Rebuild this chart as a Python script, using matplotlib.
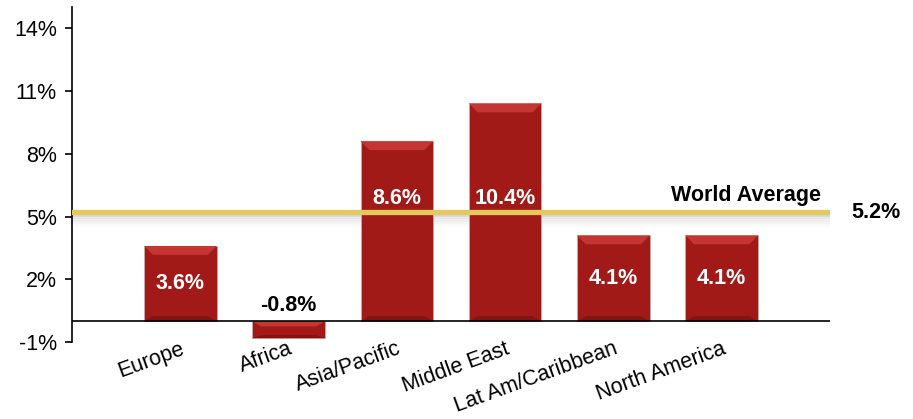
import numpy as np
import matplotlib.pyplot as plt
from matplotlib.patches import Polygon

plt.rcParams['font.family'] = ['Liberation Sans', 'DejaVu Sans']

regions = ['Europe', 'Africa', 'Asia/Pacific', 'Middle East', 'Lat Am/Caribbean', 'North America']
growth = [3.6, -0.8, 8.6, 10.4, 4.1, 4.1]
world_avg = 5.2
yticks = [-1, 2, 5, 8, 11, 14]

fs = 15.5

fig = plt.figure(figsize=(9.13, 4.19), dpi=100)
ax = fig.add_axes([0.079, 0.183, 0.83, 0.80])

x = np.arange(len(regions))
w = 0.67
bars = ax.bar(x, growth, width=w, color='#A11A17', edgecolor='#C9A9A9', linewidth=0.6, zorder=3)

# bevelled top: lighter trapezoid on each bar, darker one at the base
for xi, v in zip(x, growth):
    top = max(v, 0)
    bot = min(v, 0)
    h = min(0.42, abs(v) * 0.3)
    d = 0.08
    ax.add_patch(Polygon([[xi - w/2, top], [xi + w/2, top],
                          [xi + w/2 - d, top - h], [xi - w/2 + d, top - h]],
                         closed=True, facecolor='#C53632', edgecolor='none', zorder=4))
    ax.add_patch(Polygon([[xi - w/2, bot], [xi + w/2, bot],
                          [xi + w/2 - d, bot + h*0.6], [xi - w/2 + d, bot + h*0.6]],
                         closed=True, facecolor='#851311', edgecolor='none', zorder=4))

# value labels
for xi, v in zip(x, growth):
    if v < 0:
        ax.text(xi, 0.25, f'{v:.1f}%', ha='center', va='bottom', fontsize=fs,
                fontweight='bold', color='black', zorder=6)
    else:
        yl = v / 2
        if v > world_avg and v - world_avg < 6:
            yl = max(yl, world_avg + 0.15)
            ax.text(xi, yl, f'{v:.1f}%', ha='center', va='bottom', fontsize=fs,
                    fontweight='bold', color='white', zorder=6)
        else:
            ax.text(xi, yl, f'{v:.1f}%', ha='center', va='center', fontsize=fs,
                    fontweight='bold', color='white', zorder=6)

# world average line with soft shadow
for k, a in enumerate([0.18, 0.13, 0.09, 0.05, 0.03]):
    ax.plot([-1, 6], [world_avg - 0.12 - 0.12*k] * 2, color='gray', alpha=a,
            linewidth=3, solid_capstyle='butt', zorder=2)
ax.plot([-1, 6], [world_avg, world_avg], color='#E5C95C', linewidth=3.8,
        solid_capstyle='round', zorder=5)
ax.text(5.92, world_avg + 0.3, 'World Average', ha='right', va='bottom',
        fontsize=fs, fontweight='bold', zorder=6)
ax.text(6.2, world_avg, f'{world_avg:.1f}%', ha='left', va='center',
        fontsize=fs, fontweight='bold', clip_on=False)

ax.axhline(0, color='black', linewidth=1.2, zorder=5)

ax.set_xlim(-1, 6)
ax.set_ylim(-1, 15)
ax.set_yticks(yticks)
ax.set_yticklabels([f'{t}%' for t in yticks], fontsize=fs)
ax.set_xticks(x)
ax.set_xticklabels(regions, fontsize=fs, rotation=20, ha='right', rotation_mode='anchor')
ax.tick_params(axis='x', length=0, pad=-3)
ax.tick_params(axis='y', length=5, width=1.2, pad=6)
for s in ['top', 'right', 'bottom']:
    ax.spines[s].set_visible(False)
ax.spines['left'].set_linewidth(1.2)
ax.spines['left'].set_bounds(-1, 15)

fig.savefig('out.png', dpi=100)
